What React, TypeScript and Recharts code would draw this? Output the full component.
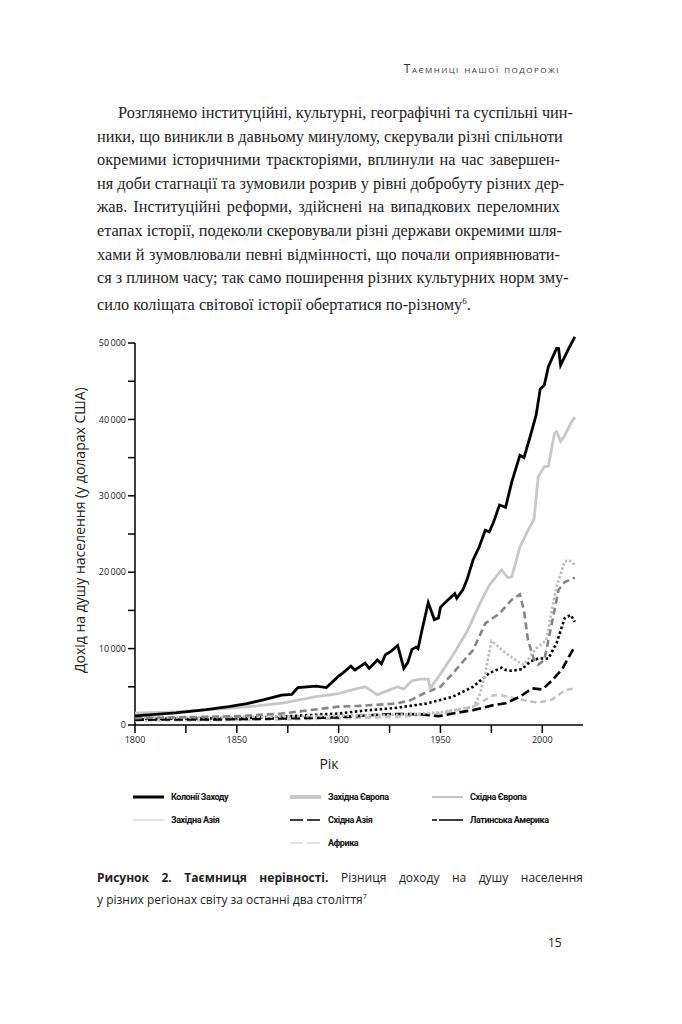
import React from 'react';
import { LineChart, Line, XAxis, YAxis, ReferenceLine } from 'recharts';

// income per capita, [year, US$]
const offshoots: [number, number][] = [
  [1800, 1200], [1820, 1600], [1835, 2000], [1846, 2400], [1855, 2800], [1863, 3300], [1872, 3900],
  [1877, 4000], [1880, 4900], [1889, 5100], [1894, 4900], [1900, 6400], [1902, 6800], [1906, 7700],
  [1908, 7200], [1913, 8100], [1915, 7400], [1919, 8500], [1921, 8000], [1923, 9200], [1926, 9700],
  [1929, 10400], [1932, 7400], [1934, 8200], [1936, 9900], [1938, 10200], [1939, 10000], [1941, 12500],
  [1944, 16000], [1947, 13800], [1949, 14000], [1950, 15400], [1953, 16200], [1957, 17200], [1958, 16600],
  [1961, 17700], [1963, 19000], [1966, 21600], [1969, 23300], [1972, 25500], [1974, 25300], [1976, 26500],
  [1979, 28800], [1982, 28500], [1985, 31800], [1989, 35300], [1991, 35000], [1994, 37700], [1997, 40600],
  [1999, 44000], [2001, 44500], [2003, 46900], [2007, 49300], [2008, 49300], [2009, 47100], [2011, 48200],
  [2013, 49300], [2016, 50800],
];

const westEurope: [number, number][] = [
  [1800, 1550], [1820, 1700], [1847, 2200], [1860, 2500], [1873, 2900], [1889, 3700], [1900, 4100],
  [1905, 4500], [1913, 5000], [1916, 4500], [1919, 3950], [1925, 4600], [1929, 5000], [1932, 4700],
  [1936, 5800], [1940, 6000], [1944, 6000], [1945, 4800], [1949, 6300], [1956, 9100], [1963, 12200],
  [1969, 15700], [1974, 18300], [1980, 20300], [1983, 19300], [1985, 19400], [1989, 23300], [1993, 25500],
  [1996, 27000], [1998, 32500], [2001, 33800], [2003, 33900], [2006, 38200], [2007, 38400], [2009, 37100],
  [2011, 37900], [2014, 39500], [2016, 40300],
];

const eastEurope: [number, number][] = [
  [1800, 900], [1850, 1150], [1872, 1500], [1900, 2400], [1910, 2500], [1925, 2750], [1929, 2850],
  [1935, 3200], [1942, 4150], [1950, 5000], [1956, 6750], [1966, 9800], [1972, 13300], [1979, 14600],
  [1985, 16400], [1989, 17100], [1991, 15000], [1993, 11100], [1996, 8500], [1998, 7900], [2001, 8500],
  [2005, 13700], [2008, 17700], [2011, 18700], [2016, 19300],
];

const westAsia: [number, number][] = [
  [1800, 950], [1850, 1050], [1900, 1200], [1930, 1350], [1950, 1650], [1956, 1950], [1966, 2400],
  [1969, 3700], [1972, 6800], [1975, 11000], [1977, 10600], [1982, 9400], [1986, 8700], [1989, 8100],
  [1991, 7900], [1997, 10000], [2002, 11100], [2005, 15500], [2007, 18100], [2011, 21400], [2013, 21600],
  [2016, 21000],
];

const eastAsia: [number, number][] = [
  [1800, 700], [1850, 750], [1900, 1000], [1913, 1250], [1927, 1450], [1940, 1400], [1949, 1150],
  [1956, 1500], [1966, 1950], [1976, 2600], [1982, 2850], [1989, 3700], [1995, 4800], [2000, 4650],
  [2005, 5900], [2010, 7400], [2013, 8900], [2016, 10300],
];

const latinAmerica: [number, number][] = [
  [1800, 800], [1850, 900], [1872, 1100], [1900, 1500], [1913, 1900], [1927, 2200], [1943, 2800],
  [1956, 3700], [1966, 5000], [1974, 6800], [1980, 7500], [1982, 7200], [1985, 7100], [1990, 7300],
  [1994, 8300], [1998, 8700], [2003, 8700], [2007, 10700], [2011, 14000], [2014, 14400], [2016, 13500],
];

const africa: [number, number][] = [
  [1800, 600], [1850, 650], [1900, 850], [1930, 1100], [1950, 1500], [1966, 2400], [1976, 3900],
  [1980, 3900], [1989, 3350], [1998, 2900], [2005, 3350], [2011, 4550], [2016, 4800],
];

const xTicks = [1800, 1825, 1850, 1875, 1900, 1925, 1950, 1975, 2000];
const yTicks = [0, 5000, 10000, 15000, 20000, 25000, 30000, 35000, 40000, 45000, 50000];

const bodyLines = [
  'Розглянемо інституційні, культурні, географічні та суспільні чин-',
  'ники, що виникли в давньому минулому, скерували різні спільноти',
  'окремими історичними траєкторіями, вплинули на час завершен-',
  'ня доби стагнації та зумовили розрив у рівні добробуту різних дер-',
  'жав. Інституційні реформи, здійснені на випадкових переломних',
  'етапах історії, подеколи скеровували різні держави окремими шля-',
  'хами й зумовлювали певні відмінності, що почали оприявнювати-',
  'ся з плином часу; так само поширення різних культурних норм зму-',
];
const bodyLast = 'сило коліщата світової історії обертатися по-різному';

const toPoints = (arr: [number, number][]) => arr.map(([year, value]) => ({ year, value }));

type SeriesStyle = { name: string; data: [number, number][]; stroke: string; width: number; dash?: string };

const series: SeriesStyle[] = [
  { name: 'Африка', data: africa, stroke: '#c4c4c4', width: 2.6, dash: '6 4' },
  { name: 'Східна Азія', data: eastAsia, stroke: '#000', width: 2.6, dash: '9 4' },
  { name: 'Латинська Америка', data: latinAmerica, stroke: '#000', width: 2.6, dash: '2.5 2.5' },
  { name: 'Західна Азія', data: westAsia, stroke: '#bdbdbd', width: 2.6, dash: '2.5 2' },
  { name: 'Східна Європа', data: eastEurope, stroke: '#858585', width: 2.6, dash: '7 4' },
  { name: 'Західна Європа', data: westEurope, stroke: '#c8c8c8', width: 2.8 },
  { name: 'Колонії Заходу', data: offshoots, stroke: '#000', width: 2.8 },
];

const fmt = (v: number) => (v === 0 ? '0' : `${Math.round(v / 1000)}\u2009000`);

const legendItems = [
  { name: 'Колонії Заходу', x: 133, y: 797, stroke: '#000', width: 3, dash: undefined },
  { name: 'Західна Європа', x: 290, y: 797, stroke: '#c8c8c8', width: 4, dash: undefined },
  { name: 'Східна Європа', x: 432, y: 797, stroke: '#888', width: 1, dash: undefined },
  { name: 'Західна Азія', x: 133, y: 820, stroke: '#c8c8c8', width: 1, dash: undefined },
  { name: 'Східна Азія', x: 290, y: 820, stroke: '#000', width: 1.5, dash: '13 4' },
  { name: 'Латинська Америка', x: 432, y: 820, stroke: '#000', width: 1.5, dash: '5 2 30 0' },
  { name: 'Африка', x: 290, y: 843, stroke: '#c8c8c8', width: 1, dash: '13 4' },
];

const CHART_TOP = 320;

export default function App() {
  return (
    <div style={{ position: 'absolute', left: 0, top: 0, width: 682, height: 1024, background: '#fff', color: '#222' }}>
      <div style={{ position: 'absolute', right: 122, top: 60, fontFamily: 'Open Sans', fontSize: 12, fontVariant: 'small-caps', letterSpacing: 1.5, color: '#333' }}>
        Таємниці нашої подорожі
      </div>

      <div style={{ position: 'absolute', left: 97, top: 101, width: 463, fontFamily: 'Liberation Serif', fontSize: 16.3, lineHeight: '23.6px' }}>
        {bodyLines.map((l, i) => (
          <div key={i} style={{ whiteSpace: 'nowrap', textAlign: 'justify', textAlignLast: 'justify', paddingLeft: i === 0 ? 21 : 0 }}>
            {l}
          </div>
        ))}
        <div style={{ whiteSpace: 'nowrap' }}>
          {bodyLast}
          <sup style={{ fontSize: 9 }}>6</sup>.
        </div>
      </div>

      <div style={{ position: 'absolute', left: 0, top: CHART_TOP }}>
        <LineChart width={682} height={470} margin={{ top: 15.4, right: 99, bottom: 35, left: 0 }}>
          <XAxis
            type="number"
            dataKey="year"
            domain={[1800, 2020]}
            ticks={xTicks}
            allowDuplicatedCategory={false}
            height={30}
            stroke="#000"
            strokeWidth={1.5}
            tickSize={8}
            tickMargin={4}
            tickFormatter={(v: number) => (v % 50 === 0 ? String(v) : '')}
            tick={{ fontSize: 9, fill: '#222', fontFamily: 'Open Sans' }}
            label={{ value: 'Рік', position: 'bottom', offset: 4, dx: -30, style: { fontSize: 14, fill: '#222', fontFamily: 'Open Sans' } }}
          />
          <YAxis
            type="number"
            domain={[0, 51000]}
            ticks={yTicks}
            width={135}
            axisLine={false}
            stroke="#000"
            tickLine={{ stroke: '#000', strokeWidth: 1.5 }}
            tickSize={7}
            tickMargin={2}
            tickFormatter={(v: number) => (v % 10000 === 0 ? fmt(v) : '')}
            tick={{ fontSize: 9, fill: '#222', fontFamily: 'Open Sans' }}
            label={{
              value: 'Дохід на душу населення (у доларах США)',
              angle: -90,
              position: 'insideLeft',
              offset: 80,
              style: { textAnchor: 'middle', fontSize: 14, fill: '#222', fontFamily: 'Open Sans' },
            }}
          />
          <ReferenceLine segment={[{ x: 1800, y: 0 }, { x: 1800, y: 50000 }]} stroke="#000" strokeWidth={1.5} />
          {series.map((s) => (
            <Line
              key={s.name}
              data={toPoints(s.data)}
              dataKey="value"
              name={s.name}
              type="linear"
              stroke={s.stroke}
              strokeWidth={s.width}
              strokeDasharray={s.dash}
              dot={false}
              activeDot={false}
              isAnimationActive={false}
            />
          ))}
        </LineChart>
      </div>

      {legendItems.map((it) => (
        <div key={it.name} style={{ position: 'absolute', left: it.x, top: it.y - 7, height: 14, display: 'flex', alignItems: 'center' }}>
          <svg width={31} height={14}>
            <line x1={0} y1={7} x2={31} y2={7} stroke={it.stroke} strokeWidth={it.width} strokeDasharray={it.dash} />
          </svg>
          <span style={{ marginLeft: 7, fontFamily: 'Roboto', fontWeight: 700, fontSize: 9, letterSpacing: -0.4, color: '#111' }}>{it.name}</span>
        </div>
      ))}

      <div style={{ position: 'absolute', left: 97, top: 868, width: 486, fontFamily: 'Open Sans', fontSize: 12, lineHeight: '19px', color: '#222' }}>
        <div style={{ whiteSpace: 'nowrap', textAlign: 'justify', textAlignLast: 'justify' }}>
          <b>Рисунок 2. Таємниця нерівності.</b> Різниця доходу на душу населення
        </div>
        <div style={{ whiteSpace: 'nowrap' }}>
          у різних регіонах світу за останні два століття<sup style={{ fontSize: 7 }}>7</sup>
        </div>
      </div>

      <div style={{ position: 'absolute', left: 548, top: 934, fontFamily: 'Open Sans', fontSize: 12, color: '#222' }}>15</div>
    </div>
  );
}
